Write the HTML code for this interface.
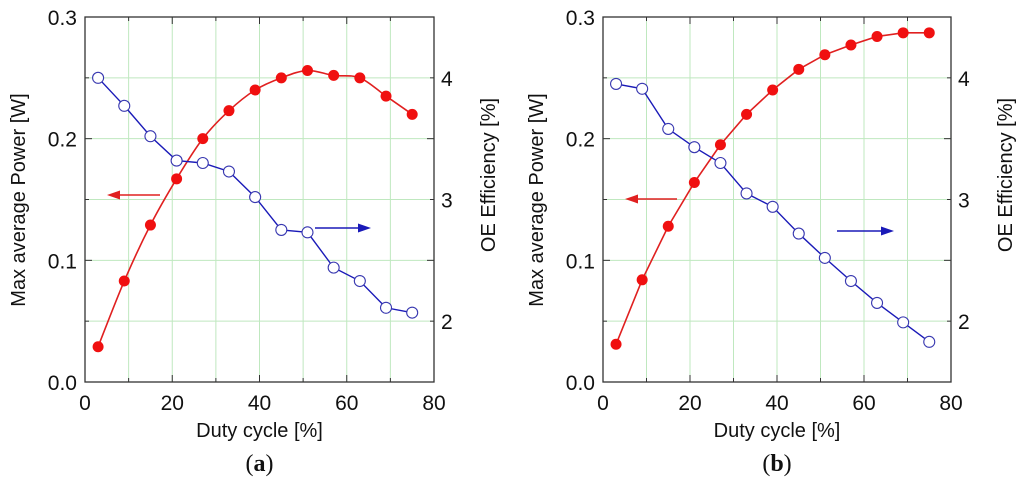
<!DOCTYPE html>
<html><head><meta charset="utf-8"><style>
body{margin:0;background:#fff;}
svg{display:block;font-family:"Liberation Sans",Arial,sans-serif;}
</style></head><body>
<svg id="c" width="1024" height="483" viewBox="0 0 1024 483"></svg>
<script>
const dutyCycles=[3,9,15,21,27,33,39,45,51,57,63,69,75];
const powerA=[0.029,0.083,0.129,0.167,0.200,0.223,0.240,0.250,0.256,0.252,0.250,0.235,0.220];
const effA=[4.00,3.77,3.52,3.32,3.30,3.23,3.02,2.75,2.73,2.44,2.33,2.11,2.07];
const powerB=[0.031,0.084,0.128,0.164,0.195,0.220,0.240,0.257,0.269,0.277,0.284,0.287,0.287];
const effB=[3.95,3.91,3.58,3.43,3.30,3.05,2.94,2.72,2.52,2.33,2.15,1.99,1.83];
const xTicks=[0,20,40,60,80];
const yTicks=["0.0","0.1","0.2","0.3"];
const y2Ticks=[2,3,4];

const NS="http://www.w3.org/2000/svg";
const svg=document.getElementById('c');
function mk(tag,attrs,parent,text){const e=document.createElementNS(NS,tag);for(const k in attrs)e.setAttribute(k,attrs[k]);if(text!==undefined)e.textContent=text;(parent||svg).appendChild(e);return e;}

function panel(L,R,power,eff,letter,smooth,arrows){
  const T=17,B=382;
  const g=mk('g',{});
  
  
  const X=v=>L+(R-L)*v/80;
  const Y=v=>B-(B-T)*v/0.3;
  const Y2=v=>B-(B-T)*(v-1.5)/3;
  for(let v=10;v<80;v+=10){const l=mk('line',{x1:X(v),x2:X(v),y1:T,y2:B,stroke:'#bfe8bf','stroke-width':1},g);}
  for(let i=1;i<6;i++){const v=i*0.05;const l=mk('line',{x1:L,x2:R,y1:Y(v),y2:Y(v),stroke:'#bfe8bf','stroke-width':1},g);}
  for(let v=0;v<=80;v+=10){const len=v%20===0?7:4;mk('line',{x1:X(v),x2:X(v),y1:B,y2:B-len,stroke:'#333'},g);mk('line',{x1:X(v),x2:X(v),y1:T,y2:T+len,stroke:'#333'},g);}
  for(let i=0;i<=6;i++){const v=i*0.05;const len=i%2===0?7:4;mk('line',{x1:L,x2:L+len,y1:Y(v),y2:Y(v),stroke:'#333'},g);mk('line',{x1:R,x2:R-len,y1:Y(v),y2:Y(v),stroke:'#333'},g);}
  const fr=mk('rect',{x:L,y:T,width:R-L,height:B-T,fill:'none',stroke:'#333','stroke-width':1.3},g);
  
  xTicks.forEach(v=>{const t=mk('text',{x:X(v),y:B+28,'font-size':21,'text-anchor':'middle',fill:'#111'},g,String(v));});
  yTicks.forEach(s=>{const t=mk('text',{x:L-8,y:Y(parseFloat(s))+8,'font-size':21,'text-anchor':'end',fill:'#111'},g,s);});
  y2Ticks.forEach(v=>{const t=mk('text',{x:R+7,y:Y2(v)+8,'font-size':21,fill:'#111'},g,String(v));});
  const xt=mk('text',{x:(L+R)/2,y:437,'font-size':20,'text-anchor':'middle',fill:'#111'},g,'Duty cycle [%]');
  
  const yt=mk('text',{x:0,y:0,'font-size':20,'text-anchor':'middle',fill:'#111',transform:`translate(${L-60},200) rotate(-90)`},g,'Max average Power [W]');
  
  const y2t=mk('text',{x:0,y:0,'font-size':20,'text-anchor':'middle',fill:'#111',transform:`translate(${R+61},175) rotate(-90)`},g,'OE Efficiency [%]');
  
  const cap=mk('text',{x:(L+R)/2,y:471,'font-size':24,'text-anchor':'middle',fill:'#111','font-family':'"Liberation Serif",serif'},g);
  
  mk('tspan',{},cap,'(');mk('tspan',{'font-weight':'bold'},cap,letter);mk('tspan',{},cap,')');
  const rp=dutyCycles.map((d,i)=>[X(d),Y(power[i])]);
  let dstr='M'+rp[0][0]+','+rp[0][1];
  if(smooth){for(let i=0;i<rp.length-1;i++){const p0=rp[Math.max(0,i-1)],p1=rp[i],p2=rp[i+1],p3=rp[Math.min(rp.length-1,i+2)];
    dstr+=` C${p1[0]+(p2[0]-p0[0])/6},${p1[1]+(p2[1]-p0[1])/6} ${p2[0]-(p3[0]-p1[0])/6},${p2[1]-(p3[1]-p1[1])/6} ${p2[0]},${p2[1]}`;}}
  else rp.slice(1).forEach(p=>dstr+=' L'+p[0]+','+p[1]);
  const rl=mk('path',{d:dstr,fill:'none',stroke:'#e02020','stroke-width':1.6},g);
  
  const bl=mk('polyline',{points:dutyCycles.map((d,i)=>X(d)+','+Y2(eff[i])).join(' '),fill:'none',stroke:'#1a1ab8','stroke-width':1.4},g);
  
  dutyCycles.forEach((d,i)=>{const c=mk('circle',{cx:X(d),cy:Y(power[i]),r:5.5,fill:'#f01010'},g);});
  dutyCycles.forEach((d,i)=>{const c=mk('circle',{cx:X(d),cy:Y2(eff[i]),r:5.5,fill:'#fff',stroke:'#3838b0','stroke-width':1.1},g);});
  const a=arrows;
  const ra=mk('g',{},g);
  mk('line',{x1:a.r[0],x2:a.r[1]+10,y1:a.r[2],y2:a.r[2],stroke:'#e02020','stroke-width':1.5},ra);
  mk('polygon',{points:`${a.r[1]},${a.r[2]} ${a.r[1]+13},${a.r[2]-4.5} ${a.r[1]+13},${a.r[2]+4.5}`,fill:'#e02020'},ra);
  const ba=mk('g',{},g);
  mk('line',{x1:a.b[0],x2:a.b[1]-10,y1:a.b[2],y2:a.b[2],stroke:'#1a1ab8','stroke-width':1.5},ba);
  mk('polygon',{points:`${a.b[1]},${a.b[2]} ${a.b[1]-13},${a.b[2]-4.5} ${a.b[1]-13},${a.b[2]+4.5}`,fill:'#1a1ab8'},ba);
}
panel(85,434,powerA,effA,'a',true,{r:[160,107,195],b:[315,371,228]});
panel(603,951,powerB,effB,'b',false,{r:[677,625,199],b:[837,894,231]});
</script>
</body></html>
